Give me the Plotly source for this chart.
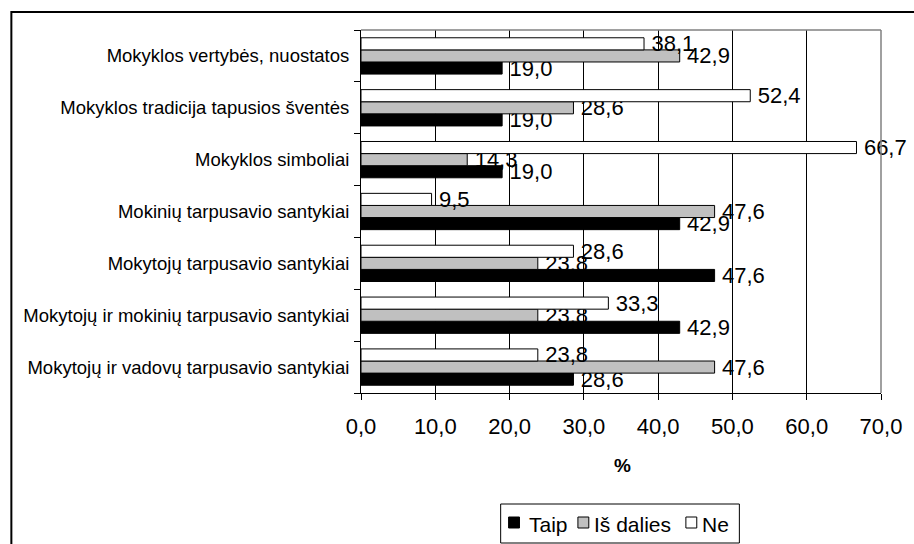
import plotly.graph_objects as go

categories = [
    "Mokyklos vertybės, nuostatos",
    "Mokyklos tradicija tapusios šventės",
    "Mokyklos simboliai",
    "Mokinių tarpusavio santykiai",
    "Mokytojų tarpusavio santykiai",
    "Mokytojų ir mokinių tarpusavio santykiai",
    "Mokytojų ir vadovų tarpusavio santykiai",
]
taip = [19.0, 19.0, 19.0, 42.9, 47.6, 42.9, 28.6]
is_dalies = [42.9, 28.6, 14.3, 47.6, 23.8, 23.8, 47.6]
ne = [38.1, 52.4, 66.7, 9.5, 28.6, 33.3, 23.8]
x_ticks = [0, 10, 20, 30, 40, 50, 60, 70]
series_names = ["Taip", "Iš dalies", "Ne"]
series_colors = ["#000000", "#C0C0C0", "#FFFFFF"]

FONT = "Liberation Sans, Arial, sans-serif"

fig = go.Figure()
for name, vals, color in zip(series_names, [taip, is_dalies, ne], series_colors):
    fig.add_trace(go.Bar(
        name=name,
        y=categories,
        x=vals,
        orientation="h",
        marker=dict(color=color, line=dict(color="#000000", width=1)),
        text=vals,
        texttemplate="\u2009%{x:.1f}",
        textposition="outside",
        constraintext="none",
        cliponaxis=False,
        textfont=dict(family=FONT, size=22, color="#000000"),
        showlegend=False,
    ))

# plot area pixel geometry: x 361..886, y 30..393
L, R, T, B = 361, 886, 30, 393
W, H = R - L, B - T


def px_x(p):
    return (p - L) / W


def px_y(p):
    return (B - p) / H


shapes = [
    dict(type="line", xref="paper", yref="paper", x0=0, x1=1, y0=1, y1=1,
         line=dict(color="#808080", width=1.5)),
    dict(type="line", xref="paper", yref="paper", x0=1, x1=1, y0=0, y1=1,
         line=dict(color="#808080", width=1.5)),
    dict(type="rect", xref="paper", yref="paper",
         x0=px_x(8), x1=px_x(1000), y0=px_y(12), y1=px_y(600),
         line=dict(color="#000000", width=2)),
    dict(type="rect", xref="paper", yref="paper",
         x0=px_x(502), x1=px_x(743), y0=px_y(504), y1=px_y(543),
         line=dict(color="#000000", width=1), fillcolor="white"),
]
annotations = [
    dict(text="<b>%</b>", xref="paper", yref="paper",
         x=px_x(625), y=px_y(465), xanchor="center", yanchor="middle",
         showarrow=False, font=dict(family=FONT, size=19, color="#000000")),
]

legend_sym_x = [510, 580, 689]
legend_txt_x = [529, 594, 703]
for name, color, sx, tx in zip(series_names, series_colors, legend_sym_x, legend_txt_x):
    shapes.append(dict(type="rect", xref="paper", yref="paper",
                       x0=px_x(sx), x1=px_x(sx + 11), y0=px_y(517), y1=px_y(528),
                       line=dict(color="#000000", width=1), fillcolor=color))
    annotations.append(dict(text=name, xref="paper", yref="paper",
                            x=px_x(tx), y=px_y(524), xanchor="left", yanchor="middle",
                            showarrow=False,
                            font=dict(family=FONT, size=21, color="#000000")))

fig.update_layout(
    width=914, height=544,
    margin=dict(l=L, r=914 - R, t=T, b=544 - B, pad=0),
    paper_bgcolor="white", plot_bgcolor="white",
    barmode="group", bargap=0.3, bargroupgap=0,
    separators=", ",
    font=dict(family=FONT, color="#000000"),
    showlegend=False,
    xaxis=dict(
        range=[0, 70],
        tickvals=x_ticks,
        tickformat=".1f",
        showgrid=True, gridcolor="#000000", gridwidth=1,
        showline=True, linecolor="#000000", linewidth=1,
        ticks="outside", ticklen=6, tickcolor="#000000",
        tickfont=dict(family=FONT, size=22, color="#000000"),
        ticklabelstandoff=8,
        zeroline=False,
        fixedrange=True,
    ),
    yaxis=dict(
        categoryorder="array",
        categoryarray=categories[::-1],
        showline=True, linecolor="#000000", linewidth=1,
        ticks="outside", ticklen=6, tickcolor="#000000",
        tickson="boundaries",
        tickfont=dict(family=FONT, size=18.5, color="#000000"),
        ticklabelstandoff=7,
        showgrid=False,
        fixedrange=True,
    ),
    shapes=shapes,
    annotations=annotations,
)

fig.write_html("out.html")
